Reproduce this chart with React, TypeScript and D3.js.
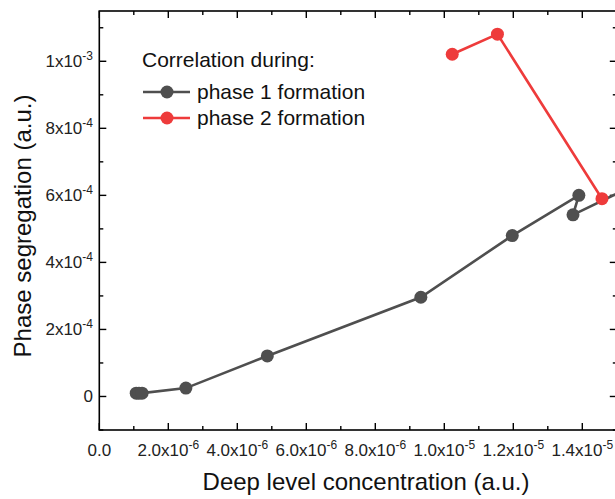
import * as d3 from "d3";
import React from "react";

// values
const phase1X = [1.07e-6, 1.15e-6, 1.24e-6, 2.51e-6, 4.87e-6, 9.32e-6, 1.197e-5, 1.39e-5, 1.373e-5, 1.53e-5];
const phase1Y = [1.0e-5, 1.0e-5, 1.0e-5, 2.5e-5, 1.21e-4, 2.96e-4, 4.8e-4, 6.0e-4, 5.42e-4, 6.2e-4];
const phase2X = [1.023e-5, 1.154e-5, 1.457e-5];
const phase2Y = [1.021e-3, 1.081e-3, 5.9e-4];

const xTickValues = [0, 2e-6, 4e-6, 6e-6, 8e-6, 1e-5, 1.2e-5, 1.4e-5];
const xTickMantissa = ["0.0", "2.0", "4.0", "6.0", "8.0", "1.0", "1.2", "1.4"];
const xTickExponent = ["", "-6", "-6", "-6", "-6", "-5", "-5", "-5"];
const yTickValues = [0, 2e-4, 4e-4, 6e-4, 8e-4, 1e-3];
const yTickMantissa = ["0", "2", "4", "6", "8", "1"];
const yTickExponent = ["", "-4", "-4", "-4", "-4", "-3"];

const legendTitle = "Correlation during:";
const seriesNames = ["phase 1 formation", "phase 2 formation"];

const W = 615;
const H = 499;
const FONT = "Arial, 'Liberation Sans', sans-serif";
const GRAY = "#4f4f4f";
const RED = "#ee3b3b";

export default function App() {
  const x = d3.scaleLinear().domain([0, 1.5e-5]).range([99.3, 616.8]);
  const y = d3.scaleLinear().domain([-1e-4, 1.15e-3]).range([430, 11]);

  const [x0, x1] = x.range();
  const [y0, y1] = y.range();

  const xMinor = d3.range(0, 15.5e-6, 1e-6);
  const yMinor = d3.range(-1e-4, 1.151e-3, 1e-4);

  const lineGen = d3
    .line<[number, number]>()
    .x((d) => x(d[0]))
    .y((d) => y(d[1]));

  const p1 = phase1X.map((v, i) => [v, phase1Y[i]] as [number, number]);
  const p2 = phase2X.map((v, i) => [v, phase2Y[i]] as [number, number]);
  const series = [
    { pts: p1, color: GRAY },
    { pts: p2, color: RED },
  ];

  const majL = 7;
  const minL = 4;

  return (
    <svg
      width={W}
      height={H}
      style={{ position: "absolute", left: 0, top: 0, background: "#fff" }}
      fontFamily={FONT}
    >
      {/* frame */}
      <rect x={x0} y={y1} width={x1 - x0} height={y0 - y1} fill="none" stroke="#000" strokeWidth={1.6} />

      {/* x ticks, bottom and top, pointing inward */}
      {xMinor.map((v, i) => {
        const major = i % 2 === 0;
        const len = major ? majL : minL;
        return (
          <g key={"xt" + i} stroke="#000" strokeWidth={1.4}>
            <line x1={x(v)} x2={x(v)} y1={y0} y2={y0 - len} />
            <line x1={x(v)} x2={x(v)} y1={y1} y2={y1 + len} />
          </g>
        );
      })}
      {/* y ticks, left and right */}
      {yMinor.map((v, i) => {
        const major = i % 2 === 1;
        const len = major ? majL : minL;
        return (
          <g key={"yt" + i} stroke="#000" strokeWidth={1.4}>
            <line x1={x0} x2={x0 + len} y1={y(v)} y2={y(v)} />
            <line x1={x1} x2={x1 - len} y1={y(v)} y2={y(v)} />
          </g>
        );
      })}

      {/* x tick labels */}
      {xTickValues.map((v, i) => (
        <text key={"xl" + i} x={x(v)} y={456} textAnchor="middle" fontSize={17} fill="#222">
          {xTickMantissa[i]}
          {xTickExponent[i] && (
            <>
              x10
              <tspan fontSize={12} dy={-7}>
                {xTickExponent[i]}
              </tspan>
            </>
          )}
        </text>
      ))}

      {/* y tick labels */}
      {yTickValues.map((v, i) => (
        <text key={"yl" + i} x={93} y={y(v) + 6} textAnchor="end" fontSize={17} fill="#222">
          {yTickMantissa[i]}
          {yTickExponent[i] && (
            <>
              x10
              <tspan fontSize={12} dy={-7}>
                {yTickExponent[i]}
              </tspan>
            </>
          )}
        </text>
      ))}

      {/* axis titles */}
      <text x={366} y={490} textAnchor="middle" fontSize={24} fill="#111">
        Deep level concentration (a.u.)
      </text>
      <text
        transform={`translate(31, 226) rotate(-90)`}
        textAnchor="middle"
        fontSize={24}
        fill="#111"
      >
        Phase segregation (a.u.)
      </text>

      {/* series */}
      {series.map((s, si) => (
        <g key={"s" + si}>
          <path d={lineGen(s.pts) || ""} fill="none" stroke={s.color} strokeWidth={2.6} />
          {s.pts.map((d, i) => (
            <circle key={i} cx={x(d[0])} cy={y(d[1])} r={6.5} fill={s.color} />
          ))}
        </g>
      ))}

      {/* legend */}
      <text x={142} y={67} fontSize={21} fill="#111">
        {legendTitle}
      </text>
      {seriesNames.map((name, i) => {
        const ly = 92 + i * 26;
        const c = series[i].color;
        return (
          <g key={"lg" + i}>
            <line x1={143} x2={190} y1={ly} y2={ly} stroke={c} strokeWidth={2.6} />
            <circle cx={167} cy={ly} r={6.5} fill={c} />
            <text x={197} y={ly + 7} fontSize={21} fill="#111">
              {name}
            </text>
          </g>
        );
      })}
    </svg>
  );
}
